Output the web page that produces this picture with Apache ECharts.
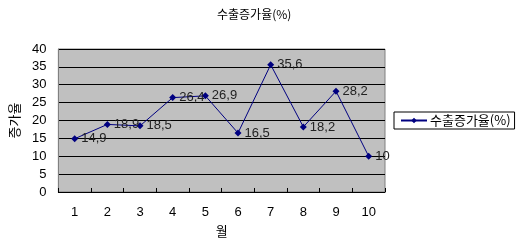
<!DOCTYPE html>
<html><head><meta charset="utf-8">
<script src="https://cdn.jsdelivr.net/npm/echarts@6/dist/echarts.min.js"></script>
<style>html,body{margin:0;padding:0;background:#fff}#c{width:520px;height:243px}</style>
</head><body><div id="c"></div>
<script>
const categories = ['1','2','3','4','5','6','7','8','9','10'];
const values = [14.9, 18.9, 18.5, 26.4, 26.9, 16.5, 35.6, 18.2, 28.2, 10];
const seriesName = '수출증가율(%)';
const titleText = '수출증가율(%)';
const xName = '월';
const yName = '증가율';

const chart = echarts.init(document.getElementById('c'), null, {renderer:'canvas'});
const font = 'Liberation Sans, Arial, sans-serif';
const kfont = 'Noto Sans CJK KR, sans-serif';
chart.setOption({
  animation: false,
  backgroundColor: '#ffffff',
  title: { text: titleText, left: 217, top: 8, padding: 0,
    textStyle: { fontFamily: kfont, fontSize: 12, fontWeight: 'normal', color: '#000' } },
  legend: {
    left: 394, top: 112, padding: [2, 4, 2, 6], itemGap: 0,
    backgroundColor: '#fff', borderColor: '#000', borderWidth: 1,
    itemWidth: 26, itemHeight: 7,
    textStyle: { fontFamily: kfont, fontSize: 13, color: '#000', padding: [0,0,0,-2] },
    data: [{ name: seriesName }]
  },
  grid: { left: 57, right: 135, top: 49, bottom: 50, show: true,
    backgroundColor: '#c0c0c0', borderColor: '#808080', borderWidth: 1 },
  xAxis: {
    type: 'category', data: categories, boundaryGap: true,
    name: xName, nameLocation: 'middle', nameGap: 33,
    nameTextStyle: { fontFamily: kfont, fontSize: 13, color: '#000' },
    axisLine: { lineStyle: { color: '#000', width: 1 } },
    axisTick: { show: true, inside: true, length: 4, lineStyle: { color: '#000' } },
    axisLabel: { fontFamily: font, fontSize: 13, color: '#000', margin: 14 },
    splitLine: { show: false }
  },
  yAxis: {
    type: 'value', min: 0, max: 40, interval: 5,
    name: yName, nameLocation: 'middle', nameGap: 36, nameRotate: 90,
    nameTextStyle: { fontFamily: kfont, fontSize: 13, color: '#000' },
    axisLine: { show: true, lineStyle: { color: '#808080' } },
    axisTick: { show: false },
    axisLabel: { fontFamily: font, fontSize: 13, color: '#000', margin: 12 },
    splitLine: { show: true, lineStyle: { color: '#000', width: 1 } }
  },
  series: [{
    name: seriesName, type: 'line', data: values,
    symbol: 'diamond', symbolSize: 7,
    lineStyle: { color: '#000080', width: 1 },
    itemStyle: { color: '#000080' },
    label: { show: true, position: 'right', distance: 3,
      fontFamily: font, fontSize: 13, color: '#222',
      formatter: p => String(p.value).replace('.', ',') }
  }]
});
</script></body></html>
